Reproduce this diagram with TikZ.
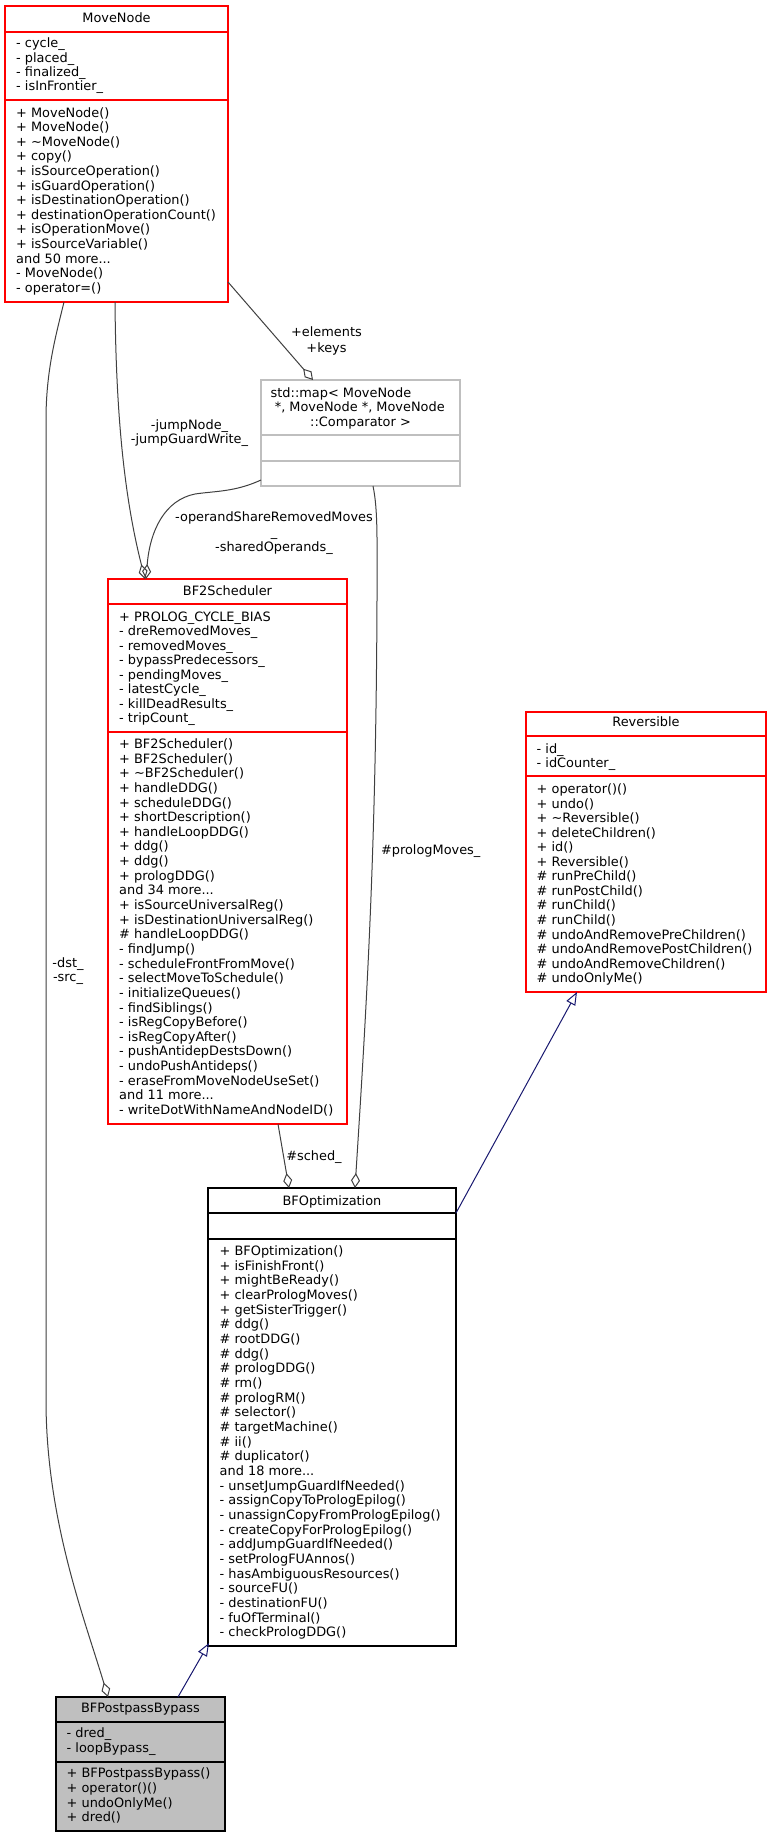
\documentclass[tikz,border=0pt]{standalone}
\usepackage{fontspec}
\setmainfont{DejaVu Sans}
\usetikzlibrary{arrows.meta}
\definecolor{edgegray}{HTML}{404040}
\definecolor{navyblue}{HTML}{191970}
\definecolor{boxgray}{HTML}{BFBFBF}
\newcommand\more[1]{and #1 more...}
\newcommand\tl{\textasciitilde}
\newcommand\umlL[5]{\foreach \itm [count=\i] in {#5} {\node[ltxt] (#1-\i) at (#2,{#3+(\i-1)*#4}) {\itm};}}
\begin{document}
\begin{tikzpicture}[x=1pt,y=-1pt,
  font=\fontsize{12.9}{14.6}\selectfont,
  ltxt/.style={anchor=base west, inner sep=0},
  ctxt/.style={anchor=base, inner sep=0},
  box/.style={draw, line width=1.2pt, inner sep=0, outer sep=0, anchor=north west},
  sep/.style={line width=1.2pt},
  agg/.style={draw=edgegray, line width=1pt, -{Diamond[open, length=15pt, width=9pt]}},
  inh/.style={draw=navyblue, line width=1pt, -{Triangle[open, length=13pt, width=10pt]}}]
\useasboundingbox (0,0) rectangle (771,1837);
\fill[white] (0,0) rectangle (771,1837);

% ---------- MoveNode ----------
\node[box, draw=red, minimum width=223pt, minimum height=296pt] (mn) at (5,6) {};
\draw[sep, red] (5,32) -- (228,32);
\draw[sep, red] (5,100) -- (228,100);
\node[ctxt] (mn-title) at (116.5,22) {MoveNode};
\umlL{mna}{16}{47.8}{14.3}{- cycle\_, - placed\_, - finalized\_, - isInFrontier\_}
\umlL{mnm}{16}{117.2}{14.58}{+ MoveNode(), + MoveNode(), + \tl MoveNode(), + copy(), + isSourceOperation(), + isGuardOperation(), + isDestinationOperation(), + destinationOperationCount(), + isOperationMove(), + isSourceVariable(), \more{50}, - MoveNode(), - operator=()}

% ---------- std::map ----------
\node[box, draw=boxgray, minimum width=199pt, minimum height=106pt] (map) at (261,380) {};
\draw[sep, boxgray] (261,435) -- (460,435);
\draw[sep, boxgray] (261,461) -- (460,461);
\node[ltxt] (map-t1) at (270.5,397.2) {std::map< MoveNode};
\node[ltxt] (map-t2) at (274.6,411.4) {*, MoveNode *, MoveNode};
\node[ctxt] (map-t3) at (360.5,426.2) {::Comparator >};

% ---------- BF2Scheduler ----------
\node[box, draw=red, minimum width=239pt, minimum height=545pt] (bf2) at (108,579) {};
\draw[sep, red] (108,604) -- (347,604);
\draw[sep, red] (108,732) -- (347,732);
\node[ctxt] (bf2-title) at (227.5,595.2) {BF2Scheduler};
\umlL{bfa}{119}{621.2}{14.51}{+ PROLOG\_CYCLE\_BIAS, - dreRemovedMoves\_, - removedMoves\_, - bypassPredecessors\_, - pendingMoves\_, - latestCycle\_, - killDeadResults\_, - tripCount\_}
\umlL{bfm}{119}{748.5}{14.64}{+ BF2Scheduler(), + BF2Scheduler(), + \tl BF2Scheduler(), + handleDDG(), + scheduleDDG(), + shortDescription(), + handleLoopDDG(), + ddg(), + ddg(), + prologDDG(), \more{34}, + isSourceUniversalReg(), + isDestinationUniversalReg(), \# handleLoopDDG(), - findJump(), - scheduleFrontFromMove(), - selectMoveToSchedule(), - initializeQueues(), - findSiblings(), - isRegCopyBefore(), - isRegCopyAfter(), - pushAntidepDestsDown(), - undoPushAntideps(), - eraseFromMoveNodeUseSet(), \more{11}, - writeDotWithNameAndNodeID()}

% ---------- Reversible ----------
\node[box, draw=red, minimum width=240pt, minimum height=280pt] (rev) at (526,712) {};
\draw[sep, red] (526,736) -- (766,736);
\draw[sep, red] (526,776) -- (766,776);
\node[ctxt] (rev-title) at (646,726.8) {Reversible};
\umlL{rva}{536.5}{753}{14.3}{- id\_, - idCounter\_}
\umlL{rvm}{536.5}{793.5}{14.56}{+ operator()(), + undo(), + \tl Reversible(), + deleteChildren(), + id(), + Reversible(), \# runPreChild(), \# runPostChild(), \# runChild(), \# runChild(), \# undoAndRemovePreChildren(), \# undoAndRemovePostChildren(), \# undoAndRemoveChildren(), \# undoOnlyMe()}

% ---------- BFOptimization ----------
\node[box, draw=black, minimum width=248pt, minimum height=458pt] (bfo) at (208,1188) {};
\draw[sep, black] (208,1213) -- (456,1213);
\draw[sep, black] (208,1239) -- (456,1239);
\node[ctxt] (bfo-title) at (332,1205.2) {BFOptimization};
\umlL{bom}{219.5}{1255.5}{14.67}{+ BFOptimization(), + isFinishFront(), + mightBeReady(), + clearPrologMoves(), + getSisterTrigger(), \# ddg(), \# rootDDG(), \# ddg(), \# prologDDG(), \# rm(), \# prologRM(), \# selector(), \# targetMachine(), \# ii(), \# duplicator(), \more{18}, - unsetJumpGuardIfNeeded(), - assignCopyToPrologEpilog(), - unassignCopyFromPrologEpilog(), - createCopyForPrologEpilog(), - addJumpGuardIfNeeded(), - setPrologFUAnnos(), - hasAmbiguousResources(), - sourceFU(), - destinationFU(), - fuOfTerminal(), - checkPrologDDG()}

% ---------- BFPostpassBypass ----------
\node[box, draw=black, fill=boxgray, minimum width=169pt, minimum height=134pt] (bpb) at (56,1697) {};
\draw[sep, black] (56,1722) -- (225,1722);
\draw[sep, black] (56,1762) -- (225,1762);
\node[ctxt] (bpb-title) at (140.5,1712.8) {BFPostpassBypass};
\umlL{bpa}{66.5}{1737.8}{15}{- dred\_, - loopBypass\_}
\umlL{bpm}{66.5}{1777.8}{14.67}{+ BFPostpassBypass(), + operator()(), + undoOnlyMe(), + dred()}

% ---------- connectors ----------
% MoveNode -> BFPostpassBypass
\draw[agg] ([xshift=59pt]mn.south west) .. controls (56,335) and (46,370) .. (46,420) -- (46,1400) .. controls (46,1520) and (85,1620) .. ([xshift=52pt]bpb.north west);
\node[ctxt] (l-dst) at (68,967) {-dst\_};
\node[ctxt] (l-src) at (68,981.6) {-src\_};
% MoveNode -> BF2Scheduler
\draw[agg] ([xshift=110pt]mn.south west) .. controls (116,420) and (125,500) .. ([xshift=37pt]bf2.north west);
\node[ctxt] (l-jn) at (189.5,429.5) {-jumpNode\_};
\node[ctxt] (l-jg) at (189.5,443.8) {-jumpGuardWrite\_};
% std::map -> BF2Scheduler
\draw[agg] ([yshift=6pt]map.south west) .. controls (235,492) and (215,491) .. (195,494) .. controls (165,500) and (150,530) .. ([xshift=38pt]bf2.north west);
\node[ctxt] (l-os1) at (274,521.5) {-operandShareRemovedMoves};
\node[ctxt] (l-os2) at (274,536) {\_};
\node[ctxt] (l-os3) at (274,551.5) {-sharedOperands\_};
% MoveNode -> std::map
\draw[agg] ([yshift=20pt]mn.south east) -- ([xshift=52pt]map.north west);
\node[ctxt] (l-el) at (326.5,336.5) {+elements};
\node[ctxt] (l-ke) at (326.5,352.5) {+keys};
% std::map -> BFOptimization
\draw[agg] ([xshift=112pt]map.south west) .. controls (378,510) and (377,540) .. (377,600) .. controls (376,850) and (367,1000) .. ([xshift=147pt]bfo.north west);
\node[ctxt] (l-pm) at (430.7,854.5) {\#prologMoves\_};
% BF2Scheduler -> BFOptimization
\draw[agg] ([xshift=170pt]bf2.south west) -- ([xshift=81pt]bfo.north west);
\node[ctxt] (l-sc) at (314,1160.5) {\#sched\_};
% inheritance
\draw[inh] ([yshift=-25pt]bfo.north east) -- ([xshift=51pt]rev.south west);
\draw[inh] ([xshift=122pt]bpb.north west) -- ([xshift=1pt,yshift=3pt]bfo.south west);
\end{tikzpicture}
\end{document}
